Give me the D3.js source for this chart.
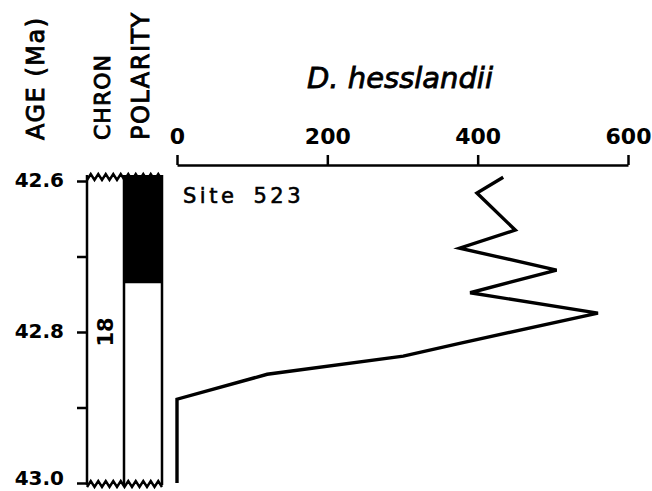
<!DOCTYPE html>
<html>
<head>
<meta charset="utf-8">
<script src="https://cdn.jsdelivr.net/npm/d3@7"></script>
<style>
  body { margin: 0; background: #fff; }
  svg { font-family: "DejaVu Sans", sans-serif; font-weight: bold; }
  .axis path, .axis line { stroke: #000; stroke-width: 2.5; }
  .axis text { fill: #000; }
</style>
</head>
<body>
<script>
// D. hesslandii abundance, Site 523
const ages   = [42.595, 42.616, 42.665, 42.689, 42.718, 42.748, 42.775, 42.815, 42.832, 42.856, 42.889, 43.0]
const counts = [434, 399, 450, 376, 505, 390, 560, 376, 301, 120, 0, 0]

const countTicks = [0, 200, 400, 600]
const ageTicks = [42.6, 42.7, 42.8, 42.9, 43.0]
const ageLabels = [42.6, 42.8, 43.0]

// magnetostratigraphy
const chronName = '18'
const normalTop = [42.6]
const normalBase = [42.734]

const width = 652, height = 491

const svg = d3.select('body').append('svg')
    .attr('width', width)
    .attr('height', height)

let x = d3.scaleLinear().domain([0, 600]).range([177, 628])
let y = d3.scaleLinear().domain([42.6, 43.0]).range([181, 483])

const colL = 87, colM = 124, colR = 162

// column headers
let headers = [
    {text: 'AGE (Ma)', cx: 35, size: 24, ls: 1.5},
    {text: 'CHRON', cx: 102, size: 22, ls: 1},
    {text: 'POLARITY', cx: 140, size: 24, ls: 1.5}
]
svg.selectAll('.hdr')
    .data(headers).enter()
    .append('text')
    .attr('class', 'hdr')
    .attr('transform', d => `translate(${d.cx},140) rotate(-90)`)
    .attr('dy', '0.36em')
    .style('font-size', d => d.size + 'px')
    .style('letter-spacing', d => d.ls + 'px')
    .style('font-weight', 'normal')
    .style('stroke', '#000')
    .style('stroke-width', '0.9px')
    .text(d => d.text)

// polarity: normal intervals black
svg.selectAll('.normal')
    .data(normalTop).enter()
    .append('rect')
    .attr('x', colM)
    .attr('width', colR - colM)
    .attr('y', (d, i) => y(d) - 6)
    .attr('height', (d, i) => y(normalBase[i]) - y(d) + 6)
    .attr('fill', '#000')

// zigzag (broken) edges top and bottom
const zig = (yc, x0, x1, n, amp) => {
    let pts = []
    let step = (x1 - x0) / n
    for (let i = 0; i <= n; i++) pts.push([x0 + i * step, yc + (i % 2 ? -amp : amp)])
    return d3.line()(pts)
}
// white over the top of the black block above the zigzag
svg.append('rect').attr('x', colM - 1).attr('y', y(42.6) - 12)
    .attr('width', colR - colM + 3).attr('height', 5).attr('fill', '#fff')
svg.append('path').attr('d', zig(y(42.6) - 4, colL, colR, 20, 3))
    .attr('fill', 'none').attr('stroke', '#000').attr('stroke-width', 2.5)
svg.append('path').attr('d', zig(y(43.0) + 1, colL, colR, 20, 3))
    .attr('fill', 'none').attr('stroke', '#000').attr('stroke-width', 2.5)

// column boundaries
svg.selectAll('.colline')
    .data([colM, colR]).enter()
    .append('line')
    .attr('x1', d => d).attr('x2', d => d)
    .attr('y1', y(42.6) - 6).attr('y2', y(43.0) + 2)
    .attr('stroke', '#000').attr('stroke-width', 2.5)

svg.append('line')
    .attr('x1', colM).attr('x2', colR)
    .attr('y1', y(normalBase[0])).attr('y2', y(normalBase[0]))
    .attr('stroke', '#000').attr('stroke-width', 2)

// chron label
svg.append('text')
    .attr('transform', `translate(${(colL + colM) / 2},${y(42.8)}) rotate(-90)`)
    .attr('text-anchor', 'middle')
    .attr('dy', '0.36em')
    .style('font-size', '21px')
    .text(chronName)

// age axis
let yAxis = d3.axisLeft(y)
    .tickValues(ageTicks)
    .tickSize(10)
    .tickSizeOuter(0)
    .tickPadding(13)
    .tickFormat(d => ageLabels.some(a => Math.abs(a - d) < 1e-9) ? d3.format('.1f')(d) : '')
let yg = svg.append('g')
    .attr('class', 'axis')
    .attr('transform', `translate(${colL},0)`)
    .call(yAxis)
yg.select('.domain').attr('d', `M0,${y(42.6) - 6}V${y(43.0) + 2}`)
yg.selectAll('text')
    .style('font-size', '20px')
    .style('font-family', '"DejaVu Sans", sans-serif')
    .style('font-weight', 'bold')
    .attr('dy', d => d >= 43 ? '0.05em' : '0.25em')

// count axis
let xAxis = d3.axisTop(x)
    .tickValues(countTicks)
    .tickSize(10)
    .tickSizeOuter(0)
    .tickPadding(11)
let xg = svg.append('g')
    .attr('class', 'axis')
    .attr('transform', 'translate(0,165)')
    .call(xAxis)
xg.selectAll('text')
    .style('font-size', '22px')
    .style('font-family', '"DejaVu Sans", sans-serif')
    .style('font-weight', 'bold')

// title
svg.append('text')
    .attr('x', 400)
    .attr('y', 88)
    .attr('text-anchor', 'middle')
    .style('font-size', '29px')
    .style('font-style', 'italic')
    .style('font-weight', 'normal')
    .style('stroke', '#000')
    .style('stroke-width', '0.8px')
    .text('D. hesslandii')

svg.append('text')
    .attr('x', 183)
    .attr('y', 203)
    .style('font-size', '21px')
    .style('font-weight', 'normal')
    .style('stroke', '#000')
    .style('stroke-width', '0.6px')
    .style('letter-spacing', '3.5px')
    .style('word-spacing', '6px')
    .text('Site 523')

// abundance curve
let line = d3.line()
    .x(d => x(d[1]))
    .y(d => y(d[0]))
svg.append('path')
    .datum(ages.map((a, i) => [a, counts[i]]))
    .attr('d', line)
    .attr('fill', 'none')
    .attr('stroke', '#000')
    .attr('stroke-width', 3.4)
    .attr('stroke-linejoin', 'miter')
</script>
</body>
</html>
